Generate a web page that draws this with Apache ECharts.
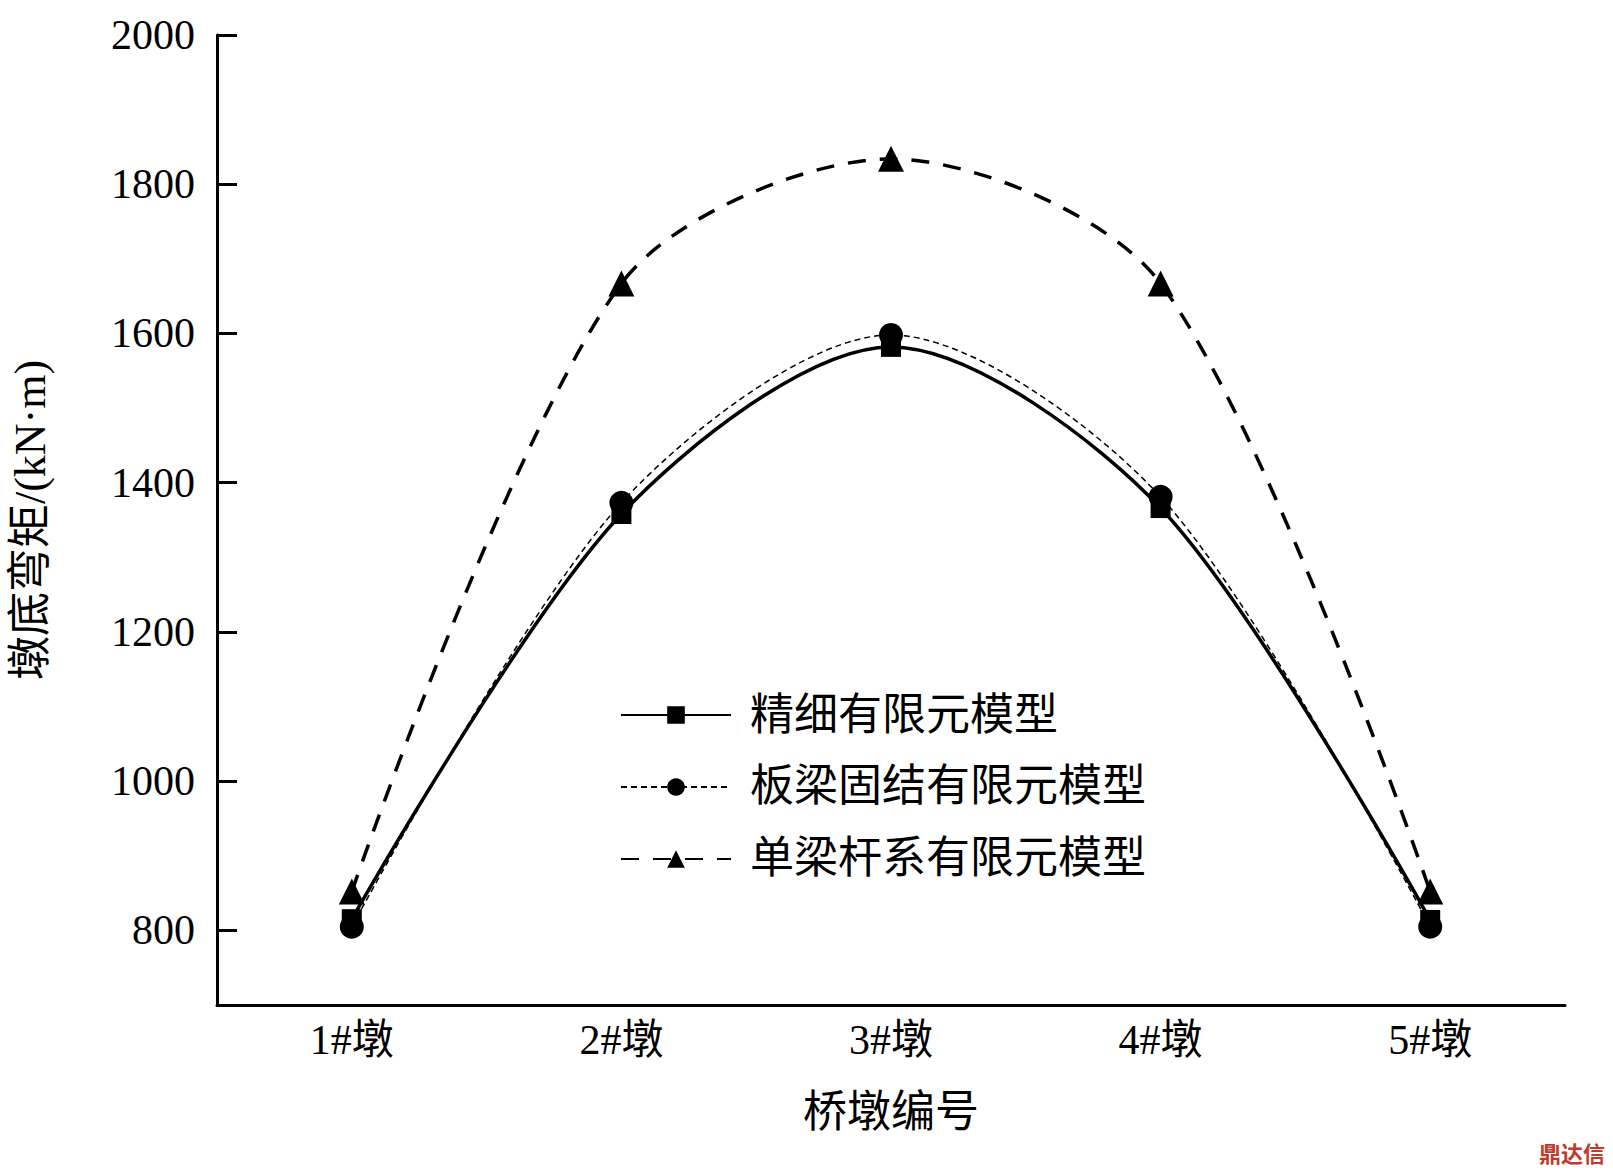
<!DOCTYPE html>
<html><head><meta charset="utf-8">
<script src="https://cdn.jsdelivr.net/npm/echarts@6/dist/echarts.min.js"></script>
<style>html,body{margin:0;background:#fff}#c{width:1613px;height:1175px}</style>
</head><body><div id="c"></div>
<script>
const piers = ['1#墩', '2#墩', '3#墩', '4#墩', '5#墩']
const fineModel = [815, 1358, 1582, 1366, 814]
const plateModel = [805, 1373, 1598, 1381, 805]
const beamModel = [852, 1667, 1834, 1667, 852]
const yTicks = [800, 1000, 1200, 1400, 1600, 1800, 2000]

const font = '"Liberation Serif", "Noto Sans CJK SC", serif'
const chart = echarts.init(document.getElementById('c'), null, { renderer: 'svg' })

chart.setOption({
  backgroundColor: '#fff',
  grid: { left: 213, right: 48, top: 35, bottom: 170 },
  legend: {
    orient: 'vertical',
    left: 615,
    top: 688,
    itemWidth: 110,
    itemHeight: 22,
    itemGap: 28,
    textStyle: { fontFamily: font, fontSize: 44, color: '#000', padding: [0, 0, 0, 14] },
    data: ['精细有限元模型', '板梁固结有限元模型', '单梁杆系有限元模型'],
  },
  xAxis: {
    type: 'category',
    data: piers,
    boundaryGap: true,
    name: '桥墩编号',
    nameLocation: 'middle',
    nameGap: 85,
    nameTextStyle: { fontFamily: font, fontSize: 44, color: '#000' },
    axisLine: { lineStyle: { color: '#000', width: 3 } },
    axisTick: { alignWithLabel: true, length: 12, lineStyle: { width: 3, color: '#000' } },
    axisLabel: { fontFamily: font, fontSize: 42, color: '#000', margin: 14 },
  },
  yAxis: {
    type: 'value',
    min: 700,
    max: 2000,
    name: '墩底弯矩/(kN·m)',
    nameLocation: 'middle',
    nameGap: 165,
    nameTextStyle: { fontFamily: font, fontSize: 44, color: '#000' },
    splitLine: { show: false },
    axisLine: { show: true, lineStyle: { color: '#000', width: 3 } },
    axisTick: { show: true, inside: true, length: 20, customValues: yTicks, lineStyle: { width: 3, color: '#000' } },
    axisLabel: { fontFamily: font, fontSize: 42, color: '#000', margin: 22, customValues: yTicks, formatter: (v) => String(v) },
  },
  series: [
    {
      name: '精细有限元模型', type: 'line', data: fineModel, smooth: 0.3,
      symbol: 'rect', symbolSize: 20,
      lineStyle: { color: '#000', width: 3.5 }, itemStyle: { color: '#000' },
    },
    {
      name: '板梁固结有限元模型', type: 'line', data: plateModel, smooth: 0.3,
      symbol: 'circle', symbolSize: 24,
      lineStyle: { color: '#000', width: 1.5, type: [6, 4] }, itemStyle: { color: '#000' },
    },
    {
      name: '单梁杆系有限元模型', type: 'line', data: beamModel, smooth: 0.3,
      symbol: 'triangle', symbolSize: 26,
      lineStyle: { color: '#000', width: 3.5, type: [18, 14] }, itemStyle: { color: '#000' },
    },
  ],
  graphic: [{
    type: 'text', right: 8, bottom: 12,
    style: { text: '鼎达信', fill: '#c0392b', font: 'bold 22px "Noto Sans CJK SC"' },
  }],
})
</script></body></html>
